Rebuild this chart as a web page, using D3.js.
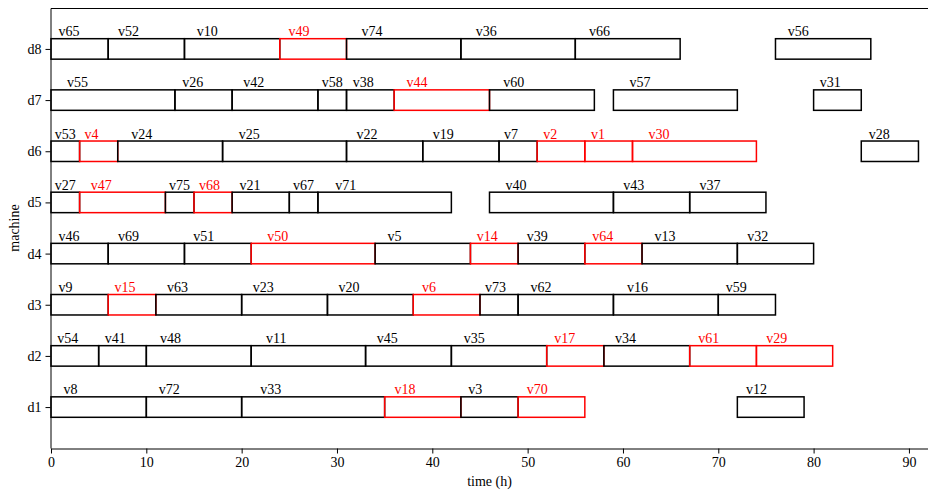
<!DOCTYPE html>
<html>
<head>
<meta charset="utf-8">
<script src="https://cdn.jsdelivr.net/npm/d3@7"></script>
<style>
  body { margin: 0; background: #fff; }
  svg { display: block; font-family: "Liberation Serif", "Times New Roman", serif; }
</style>
</head>
<body>
<div id="chart"></div>
<script>

// machines, bottom to top
var machines = ['d1', 'd2', 'd3', 'd4', 'd5', 'd6', 'd7', 'd8'];

// tasks on each machine: [name, start, end]
var d1Tasks = [['v8', 0, 10], ['v72', 10, 20], ['v33', 20, 35], ['v18', 35, 43], ['v3', 43, 49], ['v70', 49, 56], ['v12', 72, 79]];
var d2Tasks = [['v54', 0, 5], ['v41', 5, 10], ['v48', 10, 21], ['v11', 21, 33], ['v45', 33, 42], ['v35', 42, 52], ['v17', 52, 58], ['v34', 58, 67], ['v61', 67, 74], ['v29', 74, 82]];
var d3Tasks = [['v9', 0, 6], ['v15', 6, 11], ['v63', 11, 20], ['v23', 20, 29], ['v20', 29, 38], ['v6', 38, 45], ['v73', 45, 49], ['v62', 49, 59], ['v16', 59, 70], ['v59', 70, 76]];
var d4Tasks = [['v46', 0, 6], ['v69', 6, 14], ['v51', 14, 21], ['v50', 21, 34], ['v5', 34, 44], ['v14', 44, 49], ['v39', 49, 56], ['v64', 56, 62], ['v13', 62, 72], ['v32', 72, 80]];
var d5Tasks = [['v27', 0, 3], ['v47', 3, 12], ['v75', 12, 15], ['v68', 15, 19], ['v21', 19, 25], ['v67', 25, 28], ['v71', 28, 42], ['v40', 46, 59], ['v43', 59, 67], ['v37', 67, 75]];
var d6Tasks = [['v53', 0, 3], ['v4', 3, 7], ['v24', 7, 18], ['v25', 18, 31], ['v22', 31, 39], ['v19', 39, 47], ['v7', 47, 51], ['v2', 51, 56], ['v1', 56, 61], ['v30', 61, 74], ['v28', 85, 91]];
var d7Tasks = [['v55', 0, 13], ['v26', 13, 19], ['v42', 19, 28], ['v58', 28, 31], ['v38', 31, 36], ['v44', 36, 46], ['v60', 46, 57], ['v57', 59, 72], ['v31', 80, 85]];
var d8Tasks = [['v65', 0, 6], ['v52', 6, 14], ['v10', 14, 24], ['v49', 24, 31], ['v74', 31, 43], ['v36', 43, 55], ['v66', 55, 66], ['v56', 76, 86]];

// tasks on the critical path (drawn red)
var criticalTasks = ['v49', 'v44', 'v4', 'v2', 'v1', 'v30', 'v47', 'v68', 'v50', 'v14', 'v64',
  'v15', 'v6', 'v17', 'v61', 'v29', 'v18', 'v70'];

var xTicks = [0, 10, 20, 30, 40, 50, 60, 70, 80, 90];

var rows = [d1Tasks, d2Tasks, d3Tasks, d4Tasks, d5Tasks, d6Tasks, d7Tasks, d8Tasks];

var width = 928, height = 490;
var margin = { top: 8, right: 0, bottom: 42, left: 51 };

var svg = d3.select('#chart')
  .append('svg')
    .attr('width', width)
    .attr('height', height);

var x = d3.scaleLinear()
  .domain([0, 92])
  .range([margin.left, width - margin.right]);

var y = d3.scaleLinear()
  .domain([0.2, 8.8])
  .range([height - margin.bottom, margin.top]);

var barHalf = 0.2;

// frame: top spine runs to the cropped right edge
svg.append('line')
    .attr('x1', x(0)).attr('x2', width)
    .attr('y1', y(8.8) + 0.5).attr('y2', y(8.8) + 0.5)
    .attr('stroke', '#000').attr('stroke-width', 1);

var xAxis = svg.append('g')
    .attr('transform', 'translate(0,' + (y(0.2) + 0.5) + ')')
    .call(d3.axisBottom(x).tickValues(xTicks).tickSize(5).tickSizeOuter(0).tickPadding(4));

var yAxis = svg.append('g')
    .attr('transform', 'translate(' + (x(0) - 0.5) + ',0)')
    .call(d3.axisLeft(y)
      .tickValues(d3.range(1, machines.length + 1))
      .tickFormat(function (d) { return machines[d - 1]; })
      .tickSize(5).tickSizeOuter(0).tickPadding(4));

[xAxis, yAxis].forEach(function (a) {
  a.select('.domain').attr('stroke', '#000');
  a.selectAll('.tick line').attr('stroke', '#000');
  a.selectAll('.tick text')
    .attr('fill', '#000')
    .style('font-family', '"Liberation Serif", "Times New Roman", serif')
    .style('font-size', '14px');
});

svg.append('text')
    .attr('x', (x(0) + width) / 2)
    .attr('y', 486)
    .attr('text-anchor', 'middle')
    .style('font-size', '14px')
    .text('time (h)');

svg.append('text')
    .attr('transform', 'translate(19,' + ((y(0.2) + y(8.8)) / 2) + ') rotate(-90)')
    .attr('text-anchor', 'middle')
    .style('font-size', '14px')
    .text('machine');

function colorOf(name) {
  return criticalTasks.indexOf(name) >= 0 ? 'red' : '#000';
}

function toTasks(d, i) {
  return d.map(function (t) { return { name: t[0], start: t[1], end: t[2], row: i + 1 }; });
}

var group = svg.selectAll('.row')
    .data(rows)
    .enter()
  .append('g')
    .attr('class', 'row');

group.selectAll('rect')
    .data(toTasks)
    .enter()
  .append('rect')
    .attr('x', function (d) { return x(d.start); })
    .attr('y', function (d) { return y(d.row + barHalf); })
    .attr('width', function (d) { return x(d.end) - x(d.start); })
    .attr('height', function (d) { return y(d.row - barHalf) - y(d.row + barHalf); })
    .attr('fill', 'none')
    .attr('stroke', function (d) { return colorOf(d.name); })
    .attr('stroke-width', 1.5);

group.selectAll('text')
    .data(toTasks)
    .enter()
  .append('text')
    .attr('x', function (d) { return x(d.start + (d.end - d.start) * 0.13); })
    .attr('y', function (d) { return y(d.row + barHalf) - 2.5; })
    .attr('fill', function (d) { return colorOf(d.name); })
    .style('font-size', '14px')
    .text(function (d) { return d.name; });

</script>
</body>
</html>
